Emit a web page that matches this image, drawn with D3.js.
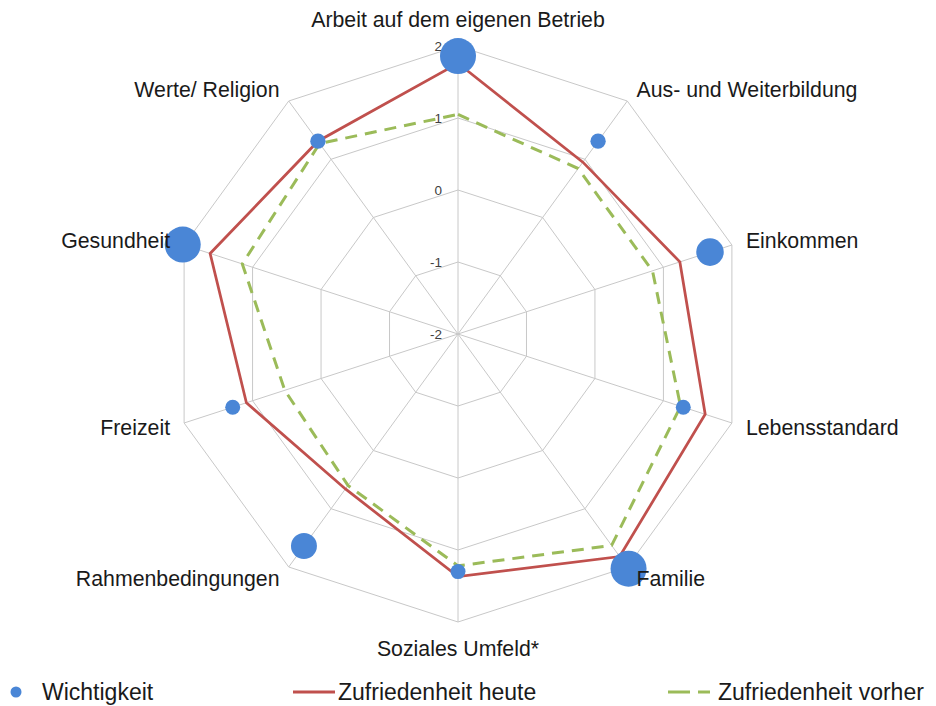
<!DOCTYPE html>
<html>
<head>
<meta charset="utf-8">
<script src="https://cdn.jsdelivr.net/npm/d3@7"></script>
<style>
  html, body { margin: 0; padding: 0; background: #ffffff; }
  svg { display: block; font-family: "Liberation Sans", Arial, sans-serif; }
</style>
</head>
<body>
<svg id="chart" width="936" height="706"></svg>
<script>
const categories = [
  "Arbeit auf dem eigenen Betrieb",
  "Aus- und Weiterbildung",
  "Einkommen",
  "Lebensstandard",
  "Familie",
  "Soziales Umfeld*",
  "Rahmenbedingungen",
  "Freizeit",
  "Gesundheit",
  "Werte/ Religion"
];
const wichtigkeit = [1.86, 1.31, 1.68, 1.29, 2.03, 1.30, 1.64, 1.29, 2.02, 1.31];
const heute       = [1.76, 0.95, 1.24, 1.61, 1.82, 1.37, 0.66, 1.09, 1.62, 1.31];
const vorher      = [1.05, 0.84, 0.84, 1.25, 1.63, 1.22, 0.60, 0.53, 1.15, 1.27];
const tickValues  = [-2, -1, 0, 1, 2];
const seriesNames = ["Wichtigkeit", "Zufriedenheit heute", "Zufriedenheit vorher"];

const svg = d3.select("#chart");
const cx = 458, cy = 334, R = 288;
const n = categories.length;

const r = d3.scaleLinear().domain([-2, 2]).range([0, R]);
const angle = d3.scaleLinear().domain([0, n]).range([0, 2 * Math.PI]);
const bubble = d3.scaleLinear().domain([1.3, 1.66, 1.86]).range([7.5, 13.3, 18]).clamp(true);

const pt = (i, v) => {
  const a = angle(i), rr = r(v);
  return [cx + rr * Math.sin(a), cy - rr * Math.cos(a)];
};

const colors = { blue: "#4a86d6", red: "#c0504d", green: "#9bbb59", grid: "#c8c8c8" };

// grid rings
const g = svg.append("g");
tickValues.filter(t => t > -2).forEach(t => {
  g.append("path")
    .attr("d", d3.line().curve(d3.curveLinearClosed)(d3.range(n).map(i => pt(i, t))))
    .attr("fill", "none").attr("stroke", colors.grid).attr("stroke-width", 1);
});
// spokes
d3.range(n).forEach(i => {
  const p = pt(i, 2);
  g.append("line").attr("x1", cx).attr("y1", cy).attr("x2", p[0]).attr("y2", p[1])
    .attr("stroke", colors.grid).attr("stroke-width", 1);
});

// tick labels
svg.append("g").selectAll("text").data(tickValues).join("text")
  .attr("x", cx - 16).attr("y", d => cy - r(d) + 1)
  .attr("text-anchor", "end").attr("dominant-baseline", "middle")
  .attr("font-size", 13.5).attr("fill", "#404040")
  .text(d => d);

// series lines
const line = d3.line().curve(d3.curveLinearClosed);
svg.append("path")
  .attr("d", line(vorher.map((v, i) => pt(i, v))))
  .attr("fill", "none").attr("stroke", colors.green).attr("stroke-width", 3)
  .attr("stroke-dasharray", "12,8");
svg.append("path")
  .attr("d", line(heute.map((v, i) => pt(i, v))))
  .attr("fill", "none").attr("stroke", colors.red).attr("stroke-width", 2.75);

// bubbles
svg.append("g").selectAll("circle").data(wichtigkeit).join("circle")
  .attr("cx", (v, i) => pt(i, v)[0]).attr("cy", (v, i) => pt(i, v)[1])
  .attr("r", v => bubble(v)).attr("fill", colors.blue);

// category labels
const labelInfo = categories.map((c, i) => {
  const p = pt(i, 2);
  const a = angle(i);
  const s = Math.sin(a), co = Math.cos(a);
  let anchor = "middle", dx = 0, dy = 0;
  if (Math.abs(s) < 0.01) {
    anchor = "middle";
    dy = co > 0 ? -19 : 34;
  } else if (s > 0) {
    anchor = "start";
    dx = 9 + 5 * Math.abs(s - 0.6) / 0.35;
    dy = -co * 14 + 7.5;
  } else {
    anchor = "end";
    dx = -(9 + 5 * Math.abs(-s - 0.6) / 0.35);
    dy = -co * 14 + 7.5;
  }
  return { c, x: p[0] + dx, y: p[1] + dy, anchor };
});
svg.append("g").selectAll("text").data(labelInfo).join("text")
  .attr("x", d => d.x).attr("y", d => d.y)
  .attr("text-anchor", d => d.anchor)
  .attr("font-size", 21.3).attr("fill", "#1a1a1a")
  .text(d => d.c);

// legend
const lg = svg.append("g").attr("font-size", 23).attr("fill", "#1a1a1a");
const ly = 692;
lg.append("circle").attr("cx", 16).attr("cy", ly).attr("r", 5.5).attr("fill", colors.blue);
lg.append("text").attr("x", 42).attr("y", ly + 8).text(seriesNames[0]);
lg.append("line").attr("x1", 293).attr("x2", 335).attr("y1", ly).attr("y2", ly)
  .attr("stroke", colors.red).attr("stroke-width", 3);
lg.append("text").attr("x", 338).attr("y", ly + 8).text(seriesNames[1]);
lg.append("line").attr("x1", 668).attr("x2", 710).attr("y1", ly).attr("y2", ly)
  .attr("stroke", colors.green).attr("stroke-width", 3).attr("stroke-dasharray", "22,8");
lg.append("text").attr("x", 718).attr("y", ly + 8).text(seriesNames[2]);
</script>
</body>
</html>
